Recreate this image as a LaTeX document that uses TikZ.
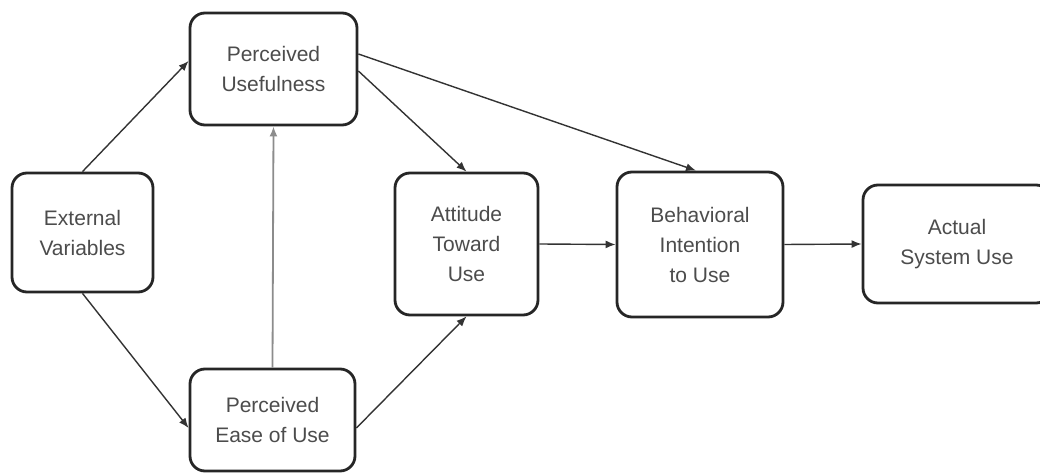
\documentclass[tikz,border=0pt]{standalone}
\usepackage{fontspec}
\setmainfont{Liberation Sans}
\usetikzlibrary{arrows.meta}

\tikzset{
	box/.style={draw=black!85, line width=1.4pt, rounded corners=7.5pt, align=center,
		text=black!70, font=\fontsize{10.5}{15}\selectfont, inner sep=0pt},
	link/.style={draw=black!80, line width=0.7pt, -{Latex[length=5pt,width=4pt]}},
	faint/.style={draw=black!45, line width=0.9pt}
}

\begin{document}
\begin{tikzpicture}[x=0.5pt, y=-0.5pt]
			%%%%% START %%%%%
			
			\useasboundingbox[fill=white] (0, 0) rectangle (1040, 475);
			
			\node[box, minimum width=70.5pt, minimum height=59.5pt] (ext) at (82.5, 232.5) {External\\Variables};
			\node[box, minimum width=83.5pt, minimum height=56pt] (pu) at (273.5, 69) {Perceived\\Usefulness};
			\node[box, minimum width=82.5pt, minimum height=51pt] (peou) at (272.5, 420) {Perceived\\Ease of Use};
			\node[box, minimum width=71.5pt, minimum height=71pt] (att) at (466.5, 244) {Attitude\\Toward\\Use};
			\node[box, minimum width=83pt, minimum height=72.5pt] (bi) at (700, 244.5) {Behavioral\\Intention\\to Use};
			\node[box, minimum width=94pt, minimum height=59pt] (use) at (957, 244) {Actual\\System Use};
			
			\draw[link] (ext.north) -- ([yshift=4pt]pu.west);
			\draw[link] (ext.south) -- ([yshift=-4pt]peou.west);
			\draw[link, faint] (peou.north) -- (pu.south);
			\draw[link] ([yshift=-1pt]pu.east) -- (att.north);
			\draw[link] ([yshift=7.5pt]pu.east) -- ([xshift=-2pt]bi.north);
			\draw[link] ([yshift=-4pt]peou.east) -- (att.south);
			\draw[link] (att.east) -- (bi.west);
			\draw[link] (bi.east) -- (use.west);
			
			%%%%% END %%%%%
		\end{tikzpicture}
\end{document}
